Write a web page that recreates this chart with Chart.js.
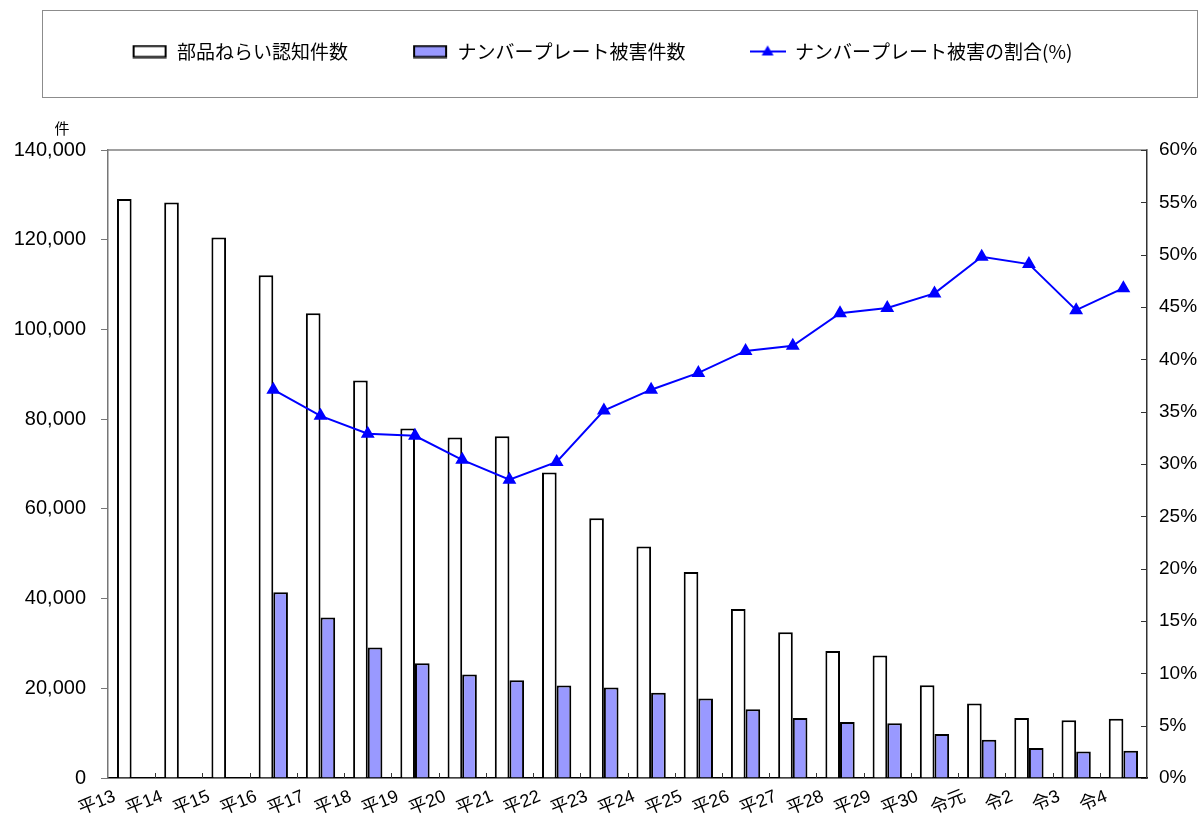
<!DOCTYPE html>
<html><head><meta charset="utf-8">
<script src="https://cdn.jsdelivr.net/npm/chart.js@4"></script>
<style>html,body{margin:0;padding:0;background:#fff;}#wrap{width:1204px;height:818px;}</style>
</head><body><div id="wrap"><canvas id="c" width="1204" height="818"></canvas></div>
<script>
const categories = ['平13','平14','平15','平16','平17','平18','平19','平20','平21','平22','平23','平24','平25','平26','平27','平28','平29','平30','令元','令2','令3','令4'];
const partsTheft = [129100,128300,120500,112100,103600,88600,77900,75900,76200,68100,57900,51600,45900,37700,32500,28300,27300,20700,16600,13400,12900,13200];
const plateTheft = [null,null,null,41400,35800,29100,25600,23100,21800,20600,20200,19000,17700,15300,13400,12500,12200,9800,8500,6700,5900,6100];
const plateRatio = [null,null,null,37.1,34.6,32.9,32.7,30.4,28.5,30.2,35.1,37.1,38.7,40.8,41.3,44.4,44.9,46.3,49.8,49.1,44.7,46.8];
const seriesNames = ['部品ねらい認知件数','ナンバープレート被害件数','ナンバープレート被害の割合(%)'];
const leftMax = 140000, leftStep = 20000;
const rightMax = 60, rightStep = 5;
const unitLabel = '件';

const LEGEND_FONT = 19, LEGEND_PAD = 64, TOP_PAD = -22;

function makeSwatch(fill, stroke){
  const c = document.createElement('canvas'); c.width = 36; c.height = 14;
  const g = c.getContext('2d');
  g.fillStyle = fill; g.fillRect(2,1.5,32,11);
  g.strokeStyle = stroke; g.lineWidth = 2; g.strokeRect(2,1.5,32,11);
  return c;
}
function makeLineMark(){
  const c = document.createElement('canvas'); c.width = 36; c.height = 14;
  const g = c.getContext('2d');
  g.strokeStyle = '#0000ff'; g.lineWidth = 2;
  g.beginPath(); g.moveTo(0,7); g.lineTo(36,7); g.stroke();
  g.fillStyle = '#0000ff'; g.beginPath(); g.moveTo(18,1); g.lineTo(24,11); g.lineTo(12,11); g.closePath(); g.fill();
  return c;
}
const legendMarks = [makeSwatch('#ffffff','#000000'), makeSwatch('#9999ff','#000000'), makeLineMark()];

const spacerPlugin = {
  id: 'spacer',
  beforeInit(chart){
    Chart.layouts.addBox(chart, {
      position: 'top', weight: 500, fullSize: true, options: {},
      left:0, top:0, right:0, bottom:0, width:0, height:0,
      isHorizontal(){ return true; },
      update(maxW){ this.width = maxW; this.height = 150 - TOP_PAD - (LEGEND_FONT + LEGEND_PAD + 10); },
      getPadding(){ return {top:0,left:0,right:0,bottom:0}; },
      draw(){}
    });
  }
};

const decoPlugin = {
  id: 'deco',
  afterDraw(chart){
    const ctx = chart.ctx, a = chart.chartArea;
    ctx.save();
    ctx.strokeStyle = '#8c8c8c'; ctx.lineWidth = 1;
    ctx.strokeRect(42.5, 10.5, 1155, 87);
    ctx.strokeStyle = '#808080'; ctx.lineWidth = 1.5;
    ctx.beginPath(); ctx.moveTo(a.left, a.top); ctx.lineTo(a.right, a.top); ctx.stroke();
    const y1 = chart.scales.y1;
    ctx.strokeStyle = '#333'; ctx.lineWidth = 1;
    y1.ticks.forEach((t,i)=>{
      const py = Math.round(y1.getPixelForTick(i)) + 0.5;
      ctx.beginPath(); ctx.moveTo(a.right - 6, py); ctx.lineTo(a.right, py); ctx.stroke();
    });
    const xs = chart.scales.x, n = categories.length, w = (xs.right - xs.left) / n;
    for (let i = 1; i < n; i++){
      const px = Math.round(xs.left + i*w) + 0.5;
      ctx.beginPath(); ctx.moveTo(px, a.bottom - 5); ctx.lineTo(px, a.bottom); ctx.stroke();
    }
    ctx.fillStyle = '#000'; ctx.font = '15px "Noto Sans CJK JP"';
    ctx.textAlign = 'center'; ctx.textBaseline = 'middle';
    ctx.fillText(unitLabel, 62, 128);
    ctx.restore();
  }
};

new Chart(document.getElementById('c'), {
  data: {
    labels: categories,
    datasets: [
      { type:'bar', label: seriesNames[0], data: partsTheft, backgroundColor:'#ffffff', borderColor:'#000000', borderWidth:2, yAxisID:'y', order:2, categoryPercentage:0.62, barPercentage:1.0 },
      { type:'bar', label: seriesNames[1], data: plateTheft, backgroundColor:'#9999ff', borderColor:'#000000', borderWidth:2, yAxisID:'y', order:2, categoryPercentage:0.62, barPercentage:1.0 },
      { type:'line', label: seriesNames[2], data: plateRatio, borderColor:'#0000ff', backgroundColor:'#0000ff', borderWidth:2, pointStyle:'triangle', pointRadius:6, pointHoverRadius:6, yAxisID:'y1', order:1, spanGaps:false, tension:0 }
    ]
  },
  options: {
    responsive:false, animation:false, devicePixelRatio:1,
    layout: { padding: { top: TOP_PAD, left: 0, right: 0, bottom: 0 } },
    plugins: {
      tooltip: { enabled:false },
      legend: {
        position:'top',
        labels: {
          usePointStyle:true, pointStyleWidth:36, boxHeight:14, padding:LEGEND_PAD,
          font:{ family:'"Noto Sans CJK JP"', size:LEGEND_FONT }, color:'#222',
          sort:(a,b)=>a.datasetIndex-b.datasetIndex,
          generateLabels:(chart)=> chart.data.datasets.map((d,i)=>({ text:d.label, datasetIndex:i, pointStyle:legendMarks[i], fillStyle:'#fff', strokeStyle:'#000', lineWidth:0, hidden:false }))
        }
      }
    },
    scales: {
      x: {
        grid:{ display:false, drawTicks:false }, border:{ display:true, color:'#000', width:1.5 },
        ticks:{ autoSkip:false, maxRotation:22, minRotation:22, padding:8, labelOffset:-17, color:'#000', font:{ family:'"Liberation Sans", "Noto Sans CJK JP"', size:18 } },
        afterFit(s){ s.height = 40; }
      },
      y: {
        position:'left', min:0, max:leftMax,
        grid:{ display:true, drawOnChartArea:false, drawTicks:true, tickLength:7, color:'#777' },
        border:{ display:true, color:'#777', width:1.5 },
        ticks:{ stepSize:leftStep, padding:15, color:'#000', font:{ family:'"Liberation Sans"', size:20 }, callback:(v)=>v.toLocaleString('en-US') },
        afterFit(s){ s.width = 108; }
      },
      y1: {
        position:'right', min:0, max:rightMax,
        grid:{ display:false, drawTicks:false }, border:{ display:true, color:'#333', width:1.5 },
        ticks:{ stepSize:rightStep, padding:12, color:'#000', font:{ family:'"Liberation Sans"', size:19 }, callback:(v)=>v+'%' },
        afterFit(s){ s.width = 57; }
      }
    }
  },
  plugins:[spacerPlugin, decoPlugin]
});
</script></body></html>
